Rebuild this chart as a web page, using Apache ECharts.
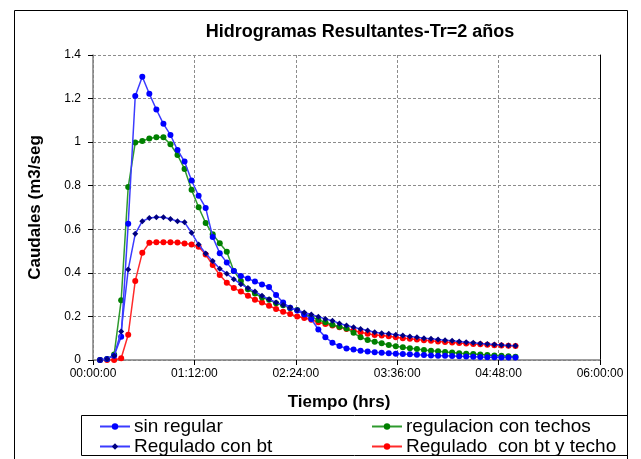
<!DOCTYPE html>
<html>
<head>
<meta charset="utf-8">
<script src="https://cdn.jsdelivr.net/npm/echarts@6/dist/echarts.min.js"></script>
<style>
  html, body { margin: 0; padding: 0; background: #fff; }
  #chart { width: 641px; height: 459px; }
</style>
</head>
<body>
<div id="chart"></div>
<script>
  // tiempo en minutos
  const tiempos = [5, 10, 15, 20, 25, 30, 35, 40, 45, 50, 55, 60, 65, 70, 75, 80, 85, 90, 95, 100,
    105, 110, 115, 120, 125, 130, 135, 140, 145, 150, 155, 160, 165, 170, 175, 180, 185, 190, 195, 200,
    205, 210, 215, 220, 225, 230, 235, 240, 245, 250, 255, 260, 265, 270, 275, 280, 285, 290, 295, 300];

  const sinRegular = [0, 0.005, 0.02, 0.107, 0.625, 1.212, 1.30, 1.222, 1.150, 1.084,
    1.033, 0.964, 0.911, 0.824, 0.754, 0.698, 0.565, 0.49, 0.447, 0.409,
    0.386, 0.374, 0.360, 0.347, 0.335, 0.298, 0.264, 0.240, 0.227, 0.209,
    0.188, 0.140, 0.105, 0.079, 0.064, 0.053, 0.048, 0.042, 0.039, 0.036,
    0.033, 0.031, 0.029, 0.027, 0.026, 0.024, 0.023, 0.021, 0.020, 0.019,
    0.018, 0.017, 0.016, 0.015, 0.014, 0.013, 0.013, 0.012, 0.011, 0.011];

  const conTechos = [0, 0.005, 0.025, 0.274, 0.794, 0.998, 1.005, 1.017, 1.022, 1.022,
    0.990, 0.941, 0.877, 0.781, 0.701, 0.629, 0.577, 0.536, 0.497, 0.409,
    0.363, 0.325, 0.305, 0.287, 0.276, 0.261, 0.251, 0.238, 0.229, 0.211,
    0.199, 0.184, 0.173, 0.162, 0.153, 0.145, 0.125, 0.104, 0.092, 0.084,
    0.077, 0.069, 0.063, 0.058, 0.054, 0.050, 0.046, 0.043, 0.040, 0.037,
    0.034, 0.031, 0.029, 0.027, 0.025, 0.023, 0.021, 0.019, 0.017, 0.015];

  const conBt = [0, 0.005, 0.02, 0.131, 0.415, 0.579, 0.637, 0.652, 0.655, 0.655,
    0.647, 0.637, 0.632, 0.584, 0.530, 0.489, 0.454, 0.419, 0.396, 0.371,
    0.348, 0.330, 0.314, 0.295, 0.279, 0.264, 0.253, 0.241, 0.229, 0.218,
    0.209, 0.199, 0.188, 0.180, 0.168, 0.158, 0.150, 0.142, 0.135, 0.127,
    0.123, 0.120, 0.116, 0.112, 0.108, 0.104, 0.100, 0.097, 0.094, 0.091,
    0.088, 0.085, 0.082, 0.079, 0.076, 0.073, 0.071, 0.069, 0.067, 0.065];

  const conBtTecho = [0, 0, 0, 0.008, 0.116, 0.363, 0.492, 0.538, 0.541, 0.541,
    0.541, 0.539, 0.535, 0.530, 0.520, 0.484, 0.436, 0.390, 0.355, 0.330,
    0.314, 0.295, 0.276, 0.264, 0.249, 0.234, 0.221, 0.211, 0.200, 0.193,
    0.185, 0.173, 0.165, 0.158, 0.150, 0.142, 0.135, 0.127, 0.120, 0.115,
    0.112, 0.109, 0.104, 0.100, 0.097, 0.094, 0.091, 0.088, 0.085, 0.083,
    0.080, 0.078, 0.076, 0.074, 0.072, 0.070, 0.068, 0.066, 0.065, 0.064];

  const nombres = ["sin regular", "regulacion con techos", "Regulado con bt", "Regulado  con bt y techo"];

  const pares = (ys) => tiempos.map((t, i) => [t, ys[i]]);

  const chart = echarts.init(document.getElementById("chart"));

  // hh:mm:ss a partir de minutos
  function hms(min) {
    const h = Math.floor(min / 60);
    const m = Math.round(min % 60);
    return String(h).padStart(2, "0") + ":" + String(m).padStart(2, "0") + ":00";
  }

  const gridLine = { show: true, lineStyle: { color: "#8c8c8c", type: [3, 2], width: 1 } };

  // una leyenda por entrada, en dos columnas
  function leyenda(nombre, left, top) {
    return {
      data: [nombre],
      left: left,
      top: top,
      padding: 0,
      itemWidth: 30,
      itemHeight: 8,
      textStyle: { fontSize: 19, color: "#000", padding: [0, 0, 0, -1] },
    };
  }

  const option = {
    animation: false,
    textStyle: { fontFamily: "Arial, 'Liberation Sans', sans-serif" },
    title: {
      text: "Hidrogramas Resultantes-Tr=2 años",
      left: 355,
      top: 18,
      textAlign: "center",
      textStyle: { fontSize: 18, fontWeight: "bold", color: "#000" },
    },
    grid: { left: 93, right: 41, top: 55, bottom: 99 },
    legend: [
      leyenda(nombres[0], 99, 417),
      leyenda(nombres[2], 99, 437),
      leyenda(nombres[1], 371, 417),
      leyenda(nombres[3], 371, 437),
    ],
    graphic: [
      {
        type: "rect",
        shape: { x: 14.5, y: 10.5, width: 613, height: 470 },
        style: { fill: "none", stroke: "#000", lineWidth: 1 },
      },
      {
        type: "rect",
        shape: { x: 81.5, y: 415.5, width: 546, height: 40 },
        style: { fill: "none", stroke: "#000", lineWidth: 1 },
      },
    ],
    xAxis: {
      type: "value",
      min: 0,
      max: 360,
      interval: 72,
      name: "Tiempo (hrs)",
      nameLocation: "middle",
      nameGap: 34,
      nameTextStyle: { fontSize: 17, fontWeight: "bold", color: "#000", padding: [0, 15, 0, 0] },
      axisLine: { show: true, lineStyle: { color: "#808080", width: 1.5 } },
      axisTick: { show: true, length: 5, lineStyle: { color: "#000" } },
      axisLabel: { formatter: hms, fontSize: 12, color: "#000", margin: 8 },
      splitLine: gridLine,
    },
    yAxis: [
      {
        type: "value",
        min: 0,
        max: 1.4,
        interval: 0.2,
        name: "Caudales (m3/seg",
        nameLocation: "middle",
        nameGap: 49,
        nameTextStyle: { fontSize: 17, fontWeight: "bold", color: "#000" },
        axisLine: { show: true, lineStyle: { color: "#808080", width: 1.5 } },
        axisTick: { show: true, length: 5, lineStyle: { color: "#000" } },
        axisLabel: { fontSize: 12, color: "#000", margin: 12 },
        splitLine: gridLine,
      },
      {
        type: "value",
        position: "right",
        min: 0,
        max: 1.4,
        interval: 0.2,
        axisLine: { show: true, lineStyle: { color: "#000", width: 1 } },
        axisTick: { show: false },
        axisLabel: { show: false },
        splitLine: { show: false },
      },
    ],
    series: [
      {
        name: nombres[0],
        type: "line",
        data: pares(sinRegular),
        symbol: "circle",
        symbolSize: 6,
        itemStyle: { color: "#0000ff" },
        lineStyle: { color: "#3b3bff", width: 1.5 },
        z: 4,
      },
      {
        name: nombres[1],
        type: "line",
        data: pares(conTechos),
        symbol: "circle",
        symbolSize: 6,
        itemStyle: { color: "#008000" },
        lineStyle: { color: "#2e9a2e", width: 1.5 },
        z: 3,
      },
      {
        name: nombres[2],
        type: "line",
        data: pares(conBt),
        symbol: "diamond",
        symbolSize: 6,
        itemStyle: { color: "#000080" },
        lineStyle: { color: "#3b3bff", width: 1.5 },
        z: 5,
      },
      {
        name: nombres[3],
        type: "line",
        data: pares(conBtTecho),
        symbol: "circle",
        symbolSize: 6,
        itemStyle: { color: "#ff0000" },
        lineStyle: { color: "#ff2a2a", width: 1.5 },
        z: 2,
      },
    ],
  };

  chart.setOption(option);
</script>
</body>
</html>
